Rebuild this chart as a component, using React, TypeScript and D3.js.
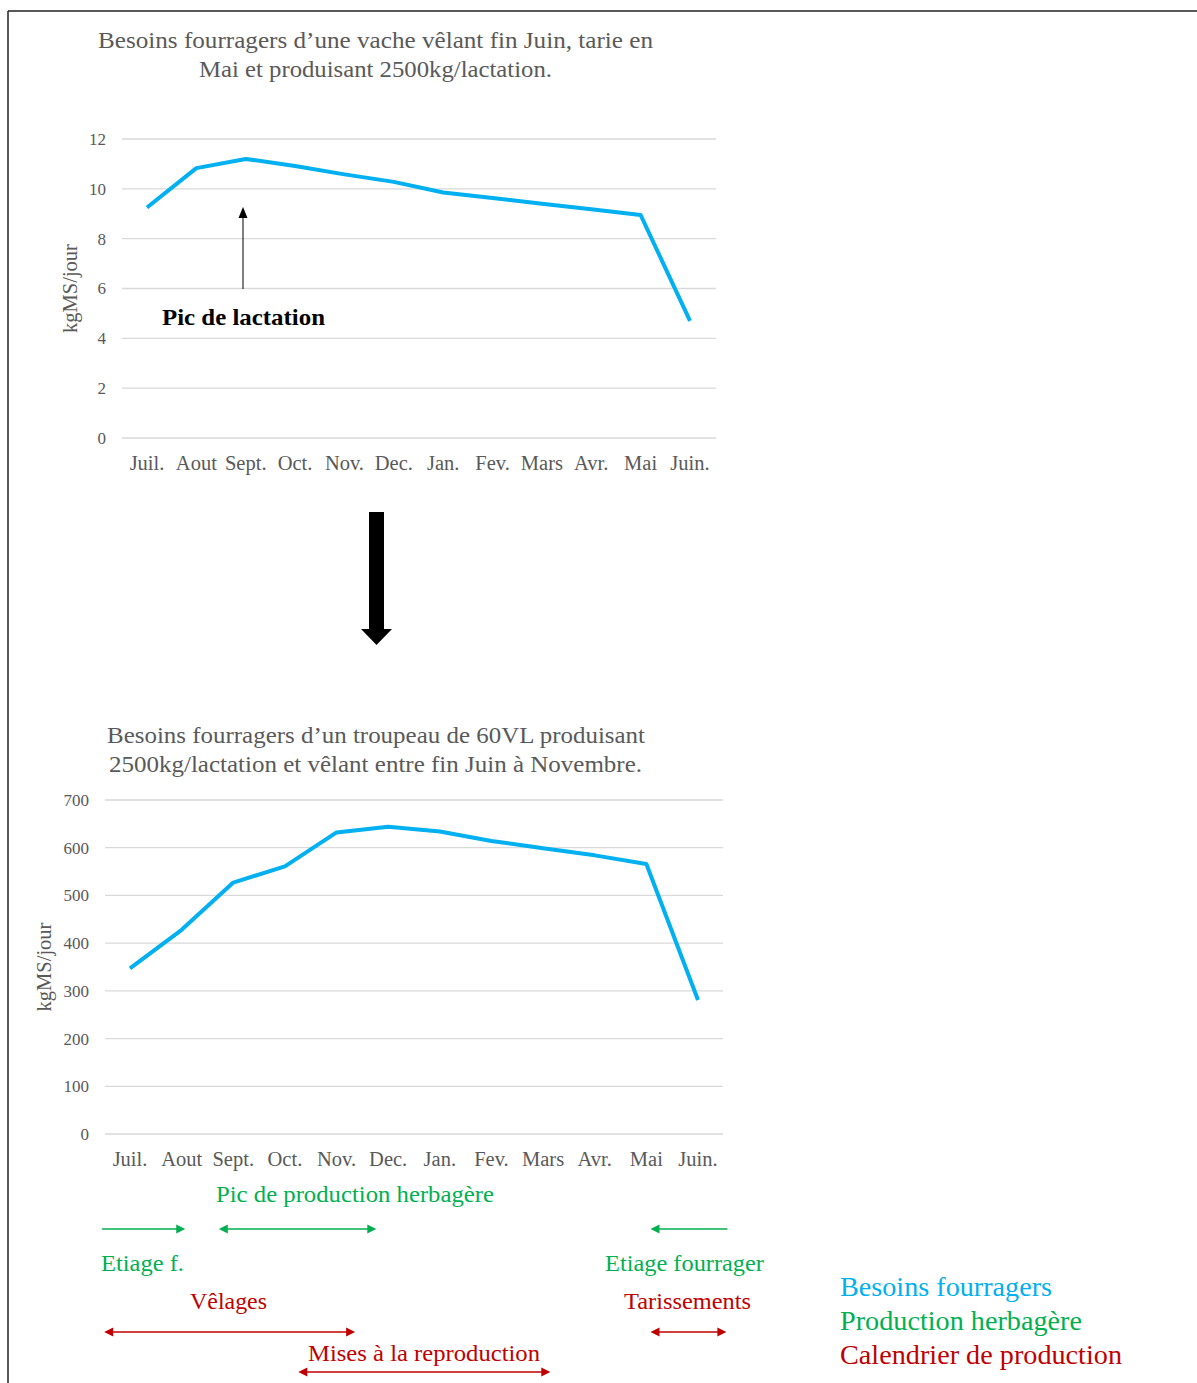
import * as d3 from 'd3';

const months = ['Juil.', 'Aout', 'Sept.', 'Oct.', 'Nov.', 'Dec.', 'Jan.', 'Fev.', 'Mars', 'Avr.', 'Mai', 'Juin.'];
const cowNeeds = [9.25, 10.83, 11.2, 10.92, 10.58, 10.28, 9.85, 9.63, 9.4, 9.18, 8.95, 4.7];
const herdNeeds = [347, 428, 527, 561, 632, 644, 634, 614, 599, 584, 566, 281];
const cowTicks = [0, 2, 4, 6, 8, 10, 12];
const herdTicks = [0, 100, 200, 300, 400, 500, 600, 700];

// annotation spans, in month index units of the bottom chart
const greenArrows = [
    { from: -0.54, to: 1.07, start: false, end: true },
    { from: 1.72, to: 4.77, start: true, end: true },
    { from: 11.57, to: 10.08, start: false, end: true },
];
const redArrows = [
    { from: -0.5, to: 4.36, start: true, end: true },
    { from: 10.08, to: 11.55, start: true, end: true },
];
const matingArrow = { from: 3.26, to: 8.14 };

const BLUE = '#00B0F0';
const GREEN = '#00B050';
const RED = '#C00000';
const GRAY = '#595959';
const FONT = '"Liberation Serif", "Times New Roman", serif';

function Arrow({ x1, x2, y, color, start, end }: { x1: number; x2: number; y: number; color: string; start?: boolean; end?: boolean }) {
    const dir = x2 > x1 ? 1 : -1;
    const h = 9;
    const w = 4.5;
    return (
        <g>
            <line x1={start ? x1 + dir * h * 0.6 : x1} x2={end ? x2 - dir * h * 0.6 : x2} y1={y} y2={y} stroke={color} strokeWidth={1.3} />
            {end && <path d={`M${x2},${y} L${x2 - dir * h},${y - w} L${x2 - dir * h},${y + w} Z`} fill={color} />}
            {start && <path d={`M${x1},${y} L${x1 + dir * h},${y - w} L${x1 + dir * h},${y + w} Z`} fill={color} />}
        </g>
    );
}

// stretched label, width
function Label({ x, y, w, children, ...rest }: any) {
    return (
        <text x={x} y={y} textLength={w} lengthAdjust="spacingAndGlyphs" {...rest}>{children}</text>
    );
}

function LineChart({ values, ticks, yMax, xRange, yRange, tickX, gridX, titleX }: {
    values: number[]; ticks: number[]; yMax: number; xRange: [number, number]; yRange: [number, number];
    tickX: number; gridX: [number, number]; titleX: number;
}) {
    const x = d3.scalePoint<string>().domain(months).range(xRange);
    const y = d3.scaleLinear().domain([0, yMax]).range(yRange);
    const line = d3.line<number>().x((_, i) => x(months[i])!).y(d => y(d));
    return (
        <g fontFamily={FONT}>
            {ticks.map(t => (
                <g key={t}>
                    <line x1={gridX[0]} x2={gridX[1]} y1={y(t)} y2={y(t)} stroke="#d9d9d9" strokeWidth={1.3} />
                    <text x={tickX} y={y(t)} dy="0.35em" textAnchor="end" fontSize={17} fill={GRAY}>{t}</text>
                </g>
            ))}
            {months.map(m => (
                <text key={m} x={x(m)} y={yRange[0] + 32} textAnchor="middle" fontSize={20.5} fill={GRAY}>{m}</text>
            ))}
            <text transform={`translate(${titleX},${(yRange[0] + yRange[1]) / 2}) rotate(-90)`} textAnchor="middle" fontSize={20.5} fill={GRAY}>kgMS/jour</text>
            <path d={line(values)!} fill="none" stroke={BLUE} strokeWidth={4} strokeLinejoin="round" />
        </g>
    );
}

export default function App() {
    const xb = d3.scalePoint<string>().domain(months).range([130, 698]);
    const step = xb.step();
    const mx = (i: number) => xb(months[0])! + i * step;

    return (
        <svg width={1197} height={1383} style={{ position: 'absolute', left: 0, top: 0, background: '#fff' }}>
            <rect width={1197} height={1383} fill="#fff" />
            <line x1={8} x2={1197} y1={11} y2={11} stroke="#222" strokeWidth={1.5} />
            <line x1={8} x2={8} y1={11} y2={1383} stroke="#222" strokeWidth={1.5} />

            <g fontFamily={FONT} fontSize={23} fill={GRAY}>
                <Label x={98} y={48} w={555}>Besoins fourragers d’une vache vêlant fin Juin, tarie en</Label>
                <Label x={199} y={77} w={353}>Mai et produisant 2500kg/lactation.</Label>
                <Label x={107} y={743} w={538}>Besoins fourragers d’un troupeau de 60VL produisant</Label>
                <Label x={109} y={772} w={533}>2500kg/lactation et vêlant entre fin Juin à Novembre.</Label>
            </g>

            <LineChart values={cowNeeds} ticks={cowTicks} yMax={12} xRange={[147, 690]} yRange={[438, 139]}
                tickX={106} gridX={[122, 716]} titleX={77} />

            {/* Pic de lactation */}
            <line x1={243} x2={243} y1={289} y2={216} stroke="#000" strokeWidth={1} />
            <path d="M243,207 L238.5,218 L247.5,218 Z" fill="#000" />
            <Label x={162} y={325} w={163} fontFamily={FONT} fontWeight="bold" fontSize={23.5} fill="#000">Pic de lactation</Label>

            {/* big down arrow */}
            <rect x={369} y={512} width={15} height={118} fill="#000" />
            <path d="M361,629 L392,629 L376.5,645 Z" fill="#000" />

            <LineChart values={herdNeeds} ticks={herdTicks} yMax={700} xRange={[130, 698]} yRange={[1134, 800]}
                tickX={89} gridX={[105, 723]} titleX={51} />

            <g fontFamily={FONT} fontSize={23}>
                <Label x={216} y={1202} w={278} fill={GREEN}>Pic de production herbagère</Label>
                <Label x={101} y={1271} w={83} fill={GREEN}>Etiage f.</Label>
                <Label x={605} y={1271} w={159} fill={GREEN}>Etiage fourrager</Label>
                <Label x={190} y={1309} w={77} fill={RED}>Vêlages</Label>
                <Label x={624} y={1309} w={127} fill={RED}>Tarissements</Label>
                <Label x={308} y={1361} w={232} fill={RED}>Mises à la reproduction</Label>
            </g>
            {greenArrows.map((a, i) => (
                <Arrow key={'g' + i} x1={mx(a.from)} x2={mx(a.to)} y={1229} color={GREEN} start={a.start} end={a.end} />
            ))}
            {redArrows.map((a, i) => (
                <Arrow key={'r' + i} x1={mx(a.from)} x2={mx(a.to)} y={1332} color={RED} start={a.start} end={a.end} />
            ))}
            <Arrow x1={mx(matingArrow.from)} x2={mx(matingArrow.to)} y={1372} color={RED} start end />

            <g fontFamily={FONT} fontSize={27.5}>
                <Label x={840} y={1296} w={212} fill={BLUE}>Besoins fourragers</Label>
                <Label x={840} y={1330} w={242} fill={GREEN}>Production herbagère</Label>
                <Label x={840} y={1364} w={282} fill={RED}>Calendrier de production</Label>
            </g>
        </svg>
    );
}
